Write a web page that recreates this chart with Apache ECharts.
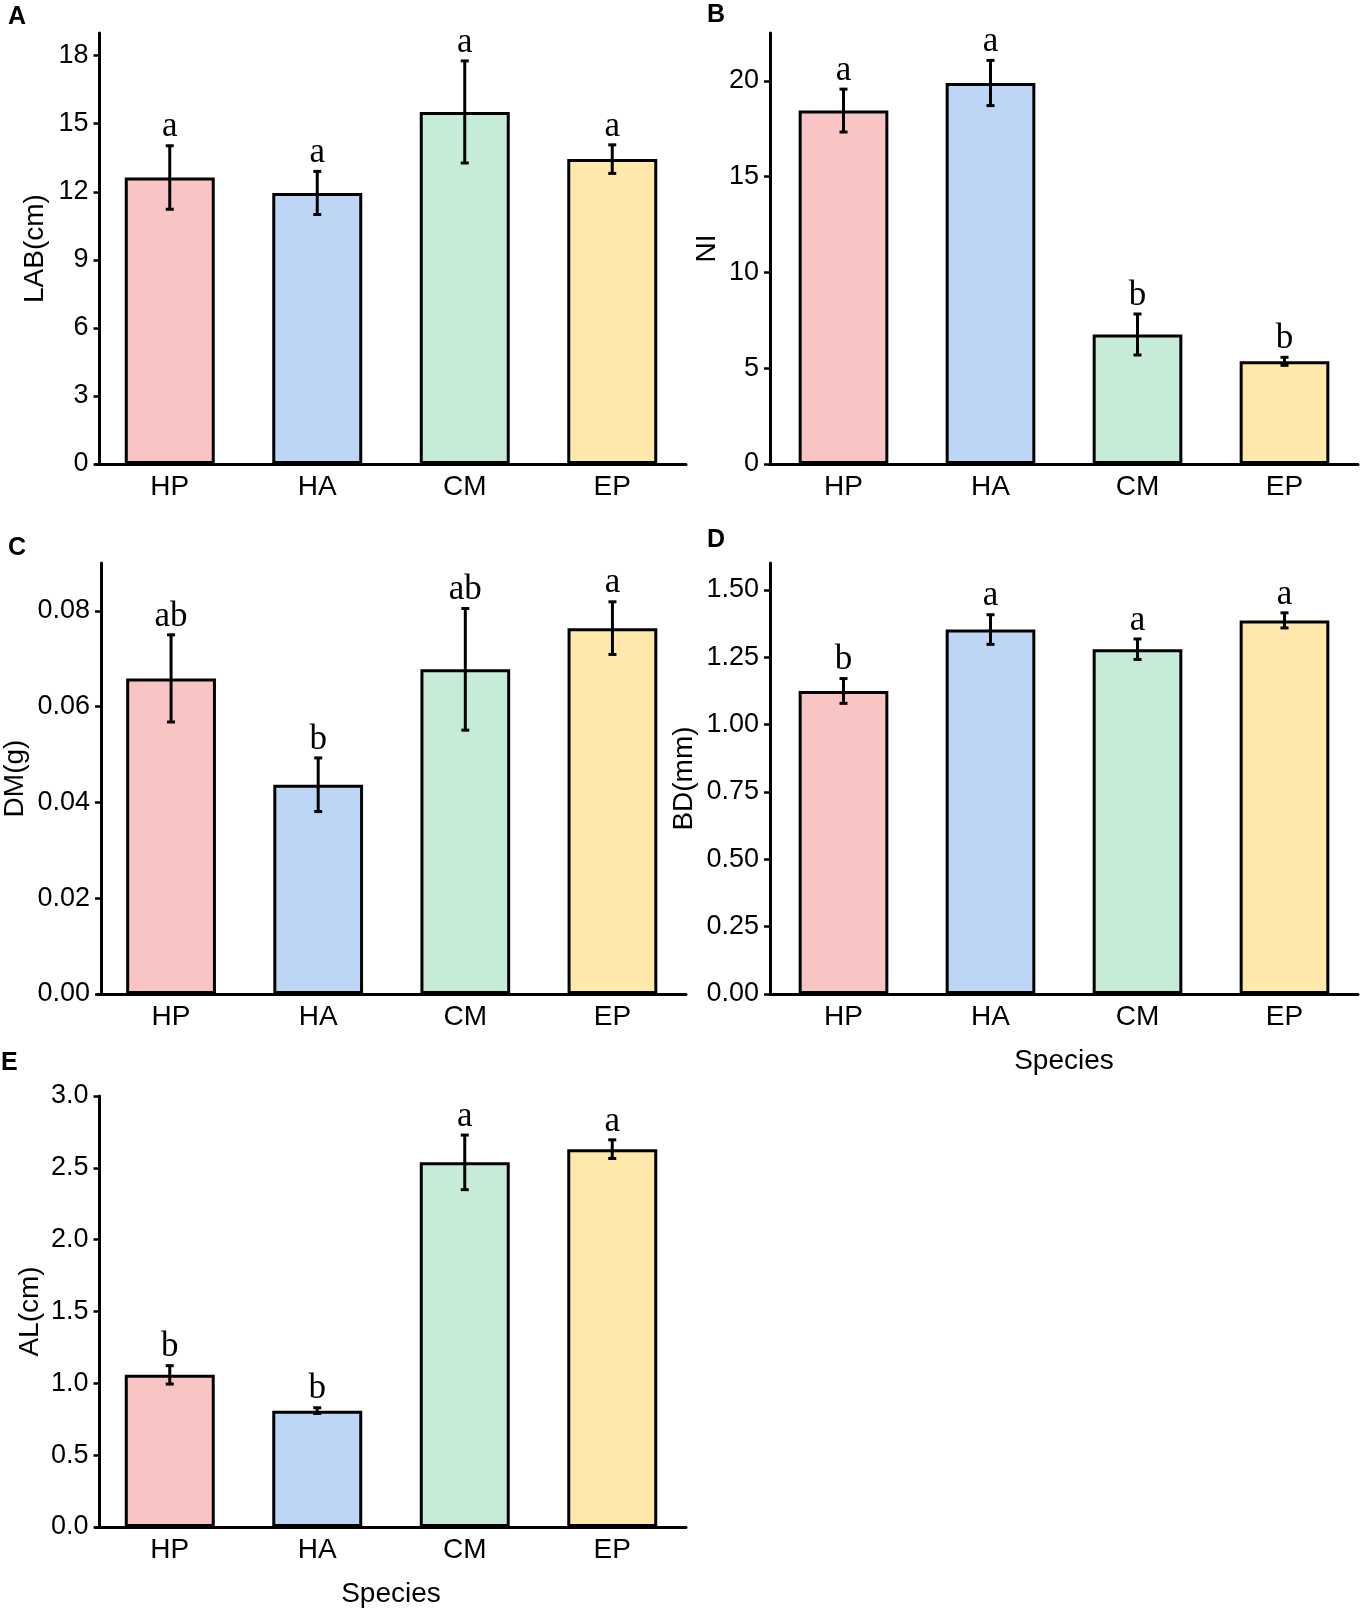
<!DOCTYPE html>
<html>
<head>
<meta charset="utf-8">
<script src="https://cdn.jsdelivr.net/npm/echarts@6/dist/echarts.min.js"></script>
<style>
  html, body { margin: 0; padding: 0; background: #fff; }
  #chart { width: 1360px; height: 1609px; }
</style>
</head>
<body>
<div id="chart"></div>
<script>
// species on every x axis
var species = ['HP', 'HA', 'CM', 'EP'];
var barColors = ['#F9C4C4', '#BDD6F5', '#C6ECD7', '#FEE9AA'];

// A: length of annual branch
var labMean = [12.63, 11.95, 15.52, 13.44];
var labSd = [1.40, 0.95, 2.25, 0.63];
var labLetters = ['a', 'a', 'a', 'a'];
var labTicks = [0, 3, 6, 9, 12, 15, 18];

// B: NI
var niMean = [18.45, 19.89, 6.76, 5.36];
var niSd = [1.12, 1.18, 1.07, 0.21];
var niLetters = ['a', 'a', 'b', 'b'];
var niTicks = [0, 5, 10, 15, 20];

// C: dry mass
var dmMean = [0.0659, 0.0437, 0.0678, 0.0764];
var dmSd = [0.0091, 0.0056, 0.0127, 0.0055];
var dmLetters = ['ab', 'b', 'ab', 'a'];
var dmTicks = [0, 0.02, 0.04, 0.06, 0.08];

// D: branch diameter
var bdMean = [1.125, 1.353, 1.280, 1.387];
var bdSd = [0.046, 0.055, 0.038, 0.028];
var bdLetters = ['b', 'a', 'a', 'a'];
var bdTicks = [0, 0.25, 0.5, 0.75, 1.0, 1.25, 1.5];

// E: AL
var alMean = [1.059, 0.81, 2.538, 2.63];
var alSd = [0.064, 0.02, 0.19, 0.065];
var alLetters = ['b', 'b', 'a', 'a'];
var alTicks = [0, 0.5, 1.0, 1.5, 2.0, 2.5, 3.0];

var panels = [
  { tag: 'A', name: 'LAB(cm)', mean: labMean, sd: labSd, letters: labLetters, ticks: labTicks, max: 19, digits: 0,
    left: 96, width: 590, yOff: -3.5, top: 33, gap: 50, xName: '', tagX: 8, tagY: 18 },
  { tag: 'B', name: 'NI', mean: niMean, sd: niSd, letters: niLetters, ticks: niTicks, max: 22.5, digits: 0,
    left: 770, width: 588, yOff: 0, top: 33, gap: 49, xName: '', tagX: 707, tagY: 16 },
  { tag: 'C', name: 'DM(g)', mean: dmMean, sd: dmSd, letters: dmLetters, ticks: dmTicks, max: 0.09, digits: 2,
    left: 96, width: 590, yOff: -3.5, top: 563, gap: 72, xName: '', tagX: 8, tagY: 549 },
  { tag: 'D', name: 'BD(mm)', mean: bdMean, sd: bdSd, letters: bdLetters, ticks: bdTicks, max: 1.6, digits: 2,
    left: 770, width: 588, yOff: 0, top: 563, gap: 72, xName: 'Species', tagX: 707, tagY: 541 },
  { tag: 'E', name: 'AL(cm)', mean: alMean, sd: alSd, letters: alLetters, ticks: alTicks, max: 3.0, digits: 1,
    left: 96, width: 590, yOff: -3.5, top: 1096, gap: 55, xName: 'Species', tagX: 1, tagY: 1064 }
];

var chart = echarts.init(document.getElementById('chart'));
var font = 'Liberation Sans, Arial, sans-serif';

var grids = [], xAxes = [], yAxes = [], series = [], graphics = [];

panels.forEach(function (p, i) {
  grids.push({ left: p.left, top: p.top, width: p.width, height: 431 });
  xAxes.push({
    type: 'category', gridIndex: i, data: species,
    name: p.xName, nameLocation: 'middle', nameGap: 53,
    nameTextStyle: { fontFamily: font, fontSize: 28, color: '#000' },
    axisLine: { lineStyle: { color: '#000', width: 3 } },
    axisTick: { show: false },
    axisLabel: { fontFamily: font, fontSize: 28, color: '#000', margin: 9 }
  });
  yAxes.push({
    type: 'value', gridIndex: i, min: 0, max: p.max, offset: p.yOff,
    name: p.name, nameLocation: 'middle', nameGap: p.gap,
    nameTextStyle: { fontFamily: font, fontSize: 28, color: '#000' },
    splitLine: { show: false },
    axisLine: { show: true, lineStyle: { color: '#000', width: 3 } },
    axisTick: { show: true, length: 6, customValues: p.ticks, lineStyle: { color: '#000', width: 2.5 } },
    axisLabel: {
      fontFamily: font, fontSize: 27, color: '#000', margin: 11, customValues: p.ticks,
      formatter: function (v) { return v.toFixed(p.digits); }
    }
  });
  series.push({
    type: 'bar', xAxisIndex: i, yAxisIndex: i,
    barCategoryGap: '39%',
    data: p.mean.map(function (v, k) {
      return { value: v, itemStyle: { color: barColors[k] } };
    }),
    itemStyle: { borderColor: '#000', borderWidth: 3 },
    animation: false
  });
  series.push({
    type: 'custom', xAxisIndex: i, yAxisIndex: i, z: 5,
    data: p.mean.map(function (v, k) { return [k, v - p.sd[k], v + p.sd[k]]; }),
    renderItem: function (params, api) {
      var lo = api.coord([api.value(0), api.value(1)]);
      var hi = api.coord([api.value(0), api.value(2)]);
      var c = 4;
      var st = { stroke: '#000', lineWidth: 3 };
      return {
        type: 'group',
        children: [
          { type: 'line', shape: { x1: hi[0], y1: hi[1], x2: lo[0], y2: lo[1] }, style: st },
          { type: 'line', shape: { x1: hi[0] - c, y1: hi[1], x2: hi[0] + c, y2: hi[1] }, style: st },
          { type: 'line', shape: { x1: lo[0] - c, y1: lo[1], x2: lo[0] + c, y2: lo[1] }, style: st },
          { type: 'text', x: hi[0], y: hi[1] - 1,
            style: { text: p.letters[params.dataIndex], fill: '#000', align: 'center', verticalAlign: 'bottom',
                     font: '35px "Liberation Serif", "Times New Roman", serif' } }
        ]
      };
    },
    animation: false
  });
  graphics.push({
    type: 'text', left: p.tagX, top: p.tagY - 13,
    style: { text: p.tag, fill: '#000', font: 'bold 25px "Liberation Sans", Arial, sans-serif' }
  });
});

chart.setOption({
  backgroundColor: '#ffffff',
  animation: false,
  grid: grids,
  xAxis: xAxes,
  yAxis: yAxes,
  series: series,
  graphic: graphics
});
</script>
</body>
</html>
